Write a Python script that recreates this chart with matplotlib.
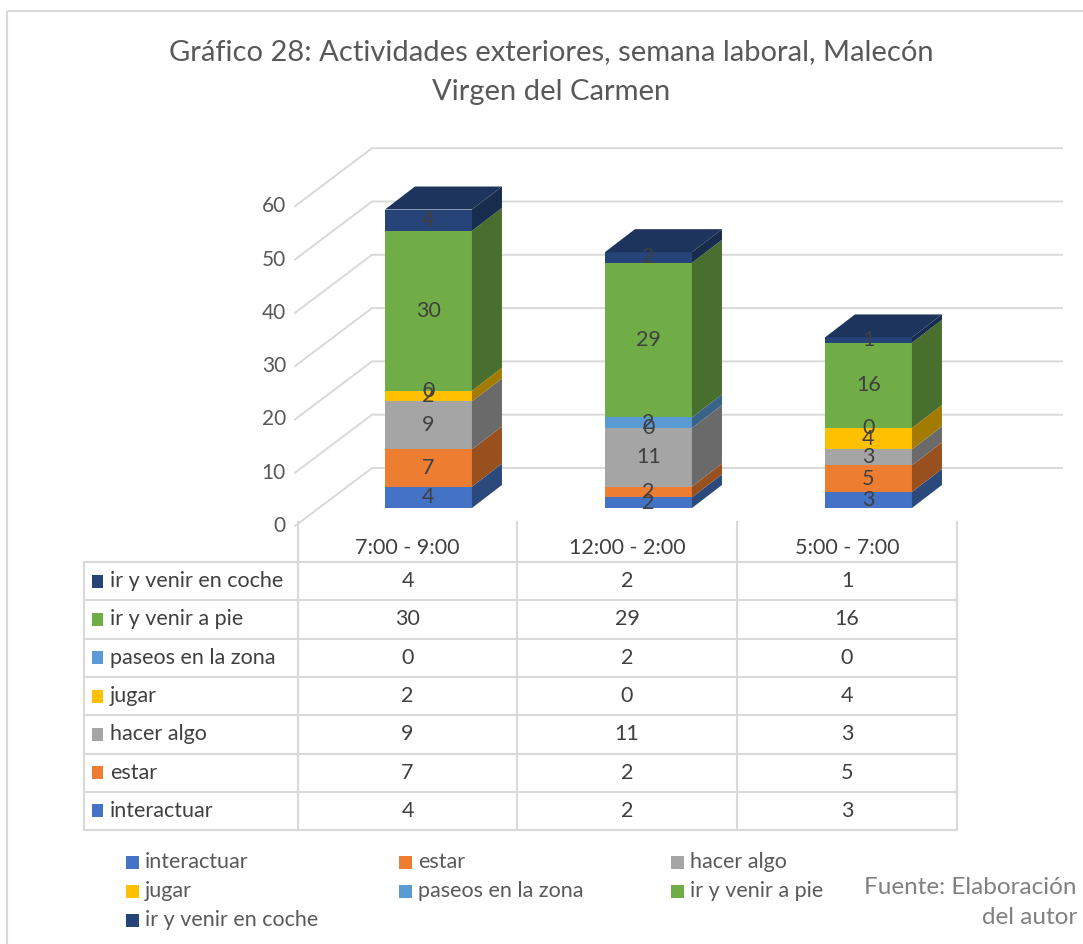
import matplotlib
matplotlib.use('Agg')
import matplotlib.pyplot as plt
from matplotlib.patches import Polygon, Rectangle
from matplotlib.colors import to_rgb

plt.rcParams['font.family'] = ['Lato', 'DejaVu Sans']

# data (stack order, bottom to top)
periods = ['7:00 - 9:00', '12:00 - 2:00', '5:00 - 7:00']
series = ['interactuar', 'estar', 'hacer algo', 'jugar', 'paseos en la zona',
          'ir y venir a pie', 'ir y venir en coche']
interactuar = [4, 2, 3]
estar = [7, 2, 5]
hacer_algo = [9, 11, 3]
jugar = [2, 0, 4]
paseos = [0, 2, 0]
a_pie = [30, 29, 16]
en_coche = [4, 2, 1]
values = [interactuar, estar, hacer_algo, jugar, paseos, a_pie, en_coche]
colors = ['#4472C4', '#ED7D31', '#A5A5A5', '#FFC000', '#5B9BD5', '#70AD47', '#264478']
yticks = [0, 10, 20, 30, 40, 50, 60]

title_lines = ['Gráfico 28: Actividades exteriores, semana laboral, Malecón',
               'Virgen del Carmen']
source_lines = ['Fuente: Elaboración', 'del autor']


def shade(c, f):
    r, g, b = to_rgb(c)
    return (r * f, g * f, b * f)


W, H = 1083, 944
fig = plt.figure(figsize=(W / 100, H / 100), dpi=100)

# overlay in pixel coords for frame, title, table and legend
bg = fig.add_axes([0, 0, 1, 1])
bg.set_xlim(0, W)
bg.set_ylim(H, 0)
bg.axis('off')
bg.add_patch(Rectangle((7, 11), W, H, fill=False, ec='#d9d9d9', lw=1.5))
for k, line in enumerate(title_lines):
    bg.text(551, 52 + 40 * k, line, ha='center', va='center', fontsize=21,
            color='#595959')

# ---- 3d-looking chart ----
PX = 220.0      # px per category
PY = 5.33       # px per unit
x0, y0 = 298, 526
ax = fig.add_axes([250 / W, (H - y0) / H, (1075 - 250) / W, (y0 - 120) / H])
ax.set_xlim((250 - x0) / PX, (1075 - x0) / PX)
ax.set_ylim(0, (y0 - 120) / PY)
ax.axis('off')

grid_c = '#d9d9d9'
gx0 = -3 / PX
DX, DY = 77 / PX, 58 / PY
gx1 = (1062 - x0) / PX
for v in yticks:
    ax.plot([gx0, gx0 + DX, gx1], [v, v + DY, v + DY], color=grid_c, lw=1.4,
            clip_on=False, zorder=1, solid_joinstyle='miter')
    ax.text(gx0 - 9 / PX, v, str(v), ha='right', va='center', fontsize=15,
            color='#595959')

BX, BY = 0.093, 18 / PY        # bar front face shift into the box
bw = 87 / PX
bdx, bdy = 30 / PX, 23 / PY
for i in range(len(periods)):
    xc = i + 0.5 + BX
    xl, xr = xc - bw / 2, xc + bw / 2
    bottom = BY
    for s in range(len(series)):
        h = values[s][i]
        ax.bar(xc, h, width=bw, bottom=bottom, color=colors[s], lw=0, zorder=3)
        if h > 0:
            ax.add_patch(Polygon([(xr, bottom), (xr + bdx, bottom + bdy),
                                  (xr + bdx, bottom + h + bdy), (xr, bottom + h)],
                                 closed=True, fc=shade(colors[s], 0.64), lw=0, zorder=3))
        bottom += h
    ax.add_patch(Polygon([(xl, bottom), (xl + bdx, bottom + bdy),
                          (xr + bdx, bottom + bdy), (xr, bottom)],
                         closed=True, fc=shade(colors[-1], 0.77), lw=0, zorder=3))
    bottom = BY
    for s in range(len(series)):
        h = values[s][i]
        ax.text(xc, bottom + h / 2, str(h), ha='center', va='center',
                fontsize=15.5, color='#404040', zorder=5)
        bottom += h

# ---- data table ----
cols = [84, 298, 517, 737, 957]
rows = [562 + k * 38.3 for k in range(8)]
lc = '#d9d9d9'
fs = 15.5
for yy in rows:
    bg.plot([cols[0], cols[-1]], [yy, yy], color=lc, lw=1.5)
bg.plot([cols[0], cols[0]], [rows[0], rows[-1]], color=lc, lw=1.5)
for xx in cols[1:]:
    bg.plot([xx, xx], [522, rows[-1]], color=lc, lw=1.5)
for j, p in enumerate(periods):
    bg.text((cols[j + 1] + cols[j + 2]) / 2, 548, p, ha='center', va='center',
            fontsize=fs, color='#404040')
for k in range(len(series)):
    s = len(series) - 1 - k
    yc = (rows[k] + rows[k + 1]) / 2
    bg.add_patch(Rectangle((92, yc - 6.5), 11, 13, fc=colors[s], lw=0))
    bg.text(110, yc, series[s], ha='left', va='center', fontsize=fs,
            color='#404040')
    for j in range(len(periods)):
        bg.text((cols[j + 1] + cols[j + 2]) / 2, yc, str(values[s][j]),
                ha='center', va='center', fontsize=fs, color='#404040')

# ---- legend ----
leg_x = [126, 399, 671]
leg_y = [862, 891, 920]
for s in range(len(series)):
    r, c = divmod(s, 3)
    bg.add_patch(Rectangle((leg_x[c], leg_y[r] - 6.5), 13, 13, fc=colors[s], lw=0))
    bg.text(leg_x[c] + 19, leg_y[r], series[s], ha='left', va='center',
            fontsize=fs, color='#595959')

for k, line in enumerate(source_lines):
    bg.text(1077, 887 + 31 * k, line, ha='right', va='center', fontsize=17.5,
            color='#808080')

fig.savefig('out.png', dpi=100)
